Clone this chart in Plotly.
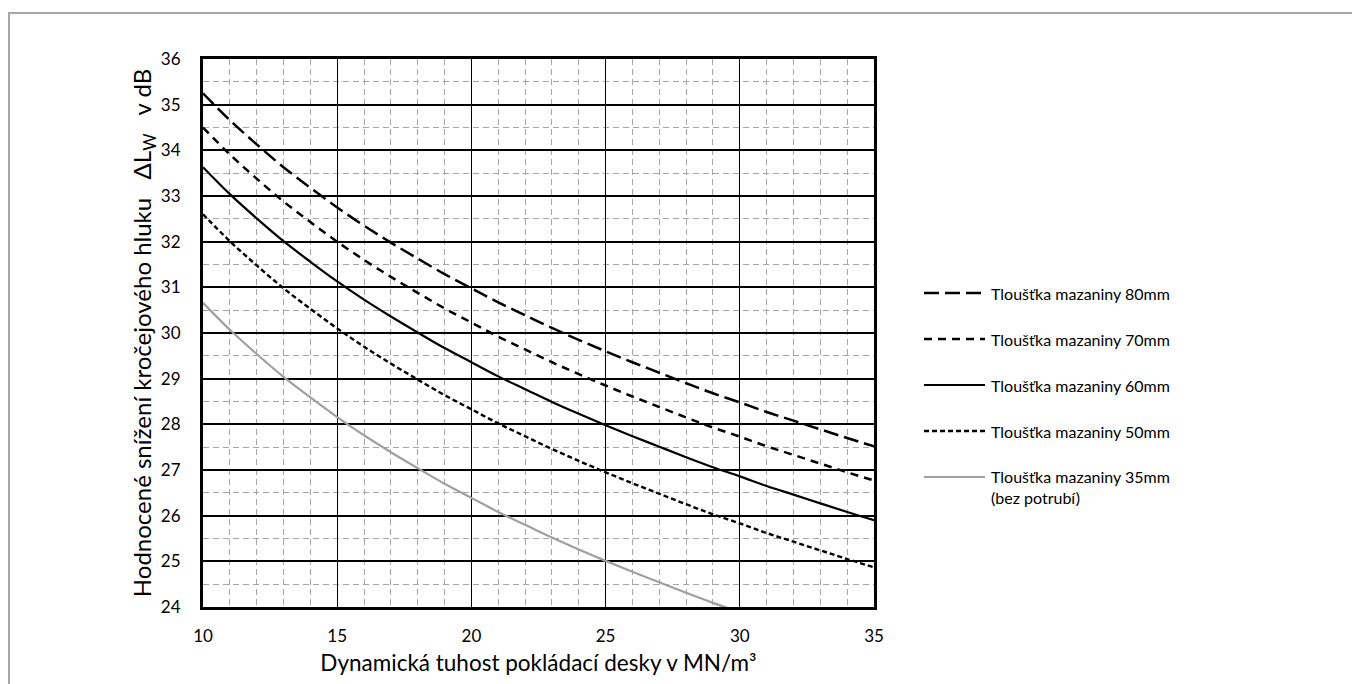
import plotly.graph_objects as go

# Dynamic stiffness s' (MN/m3)
stiffness = list(range(10, 36))
stiffness_35 = list(range(10, 31))

# Weighted impact sound reduction (dB)
screed_80mm = [35.25, 34.66, 34.13, 33.63, 33.18, 32.75, 32.35, 31.98, 31.63, 31.29, 30.98, 30.67, 30.39,
               30.11, 29.85, 29.60, 29.36, 29.13, 28.90, 28.68, 28.48, 28.27, 28.08, 27.89, 27.70, 27.52]
screed_70mm = [34.50, 33.91, 33.38, 32.88, 32.43, 32.00, 31.60, 31.23, 30.88, 30.54, 30.23, 29.92, 29.64,
               29.36, 29.10, 28.85, 28.61, 28.38, 28.15, 27.93, 27.73, 27.52, 27.33, 27.14, 26.95, 26.77]
screed_60mm = [33.63, 33.04, 32.51, 32.01, 31.56, 31.13, 30.73, 30.36, 30.01, 29.67, 29.36, 29.05, 28.77,
               28.49, 28.23, 27.98, 27.74, 27.51, 27.28, 27.06, 26.86, 26.65, 26.46, 26.27, 26.08, 25.90]
screed_50mm = [32.60, 32.01, 31.48, 30.98, 30.53, 30.10, 29.70, 29.33, 28.98, 28.64, 28.33, 28.02, 27.74,
               27.46, 27.20, 26.95, 26.71, 26.48, 26.25, 26.03, 25.83, 25.62, 25.43, 25.24, 25.05, 24.87]
screed_35mm = [30.66, 30.07, 29.54, 29.04, 28.59, 28.16, 27.76, 27.39, 27.04, 26.70, 26.39, 26.08, 25.80,
               25.52, 25.26, 25.01, 24.77, 24.54, 24.31, 24.09, 23.89]

labels = ["Tloušťka mazaniny 80mm", "Tloušťka mazaniny 70mm", "Tloušťka mazaniny 60mm",
          "Tloušťka mazaniny 50mm", "Tloušťka mazaniny 35mm<br>(bez potrubí)"]

x_ticks = [10, 15, 20, 25, 30, 35]
y_ticks = list(range(24, 37))

FONT = "Lato"
OFF = 8  # page body margin
W, H = 1360, 684
L, R, T, B = 203 - OFF, 874 - OFF, 59 - OFF, 607 - OFF

styles = [
    dict(color="black", width=2.5, dash="15px,6px"),
    dict(color="black", width=2.5, dash="8px,6px"),
    dict(color="black", width=2.2, dash="solid"),
    dict(color="black", width=2.4, dash="5px,3px"),
    dict(color="#a0a0a0", width=2.2, dash="solid"),
]
series = [(stiffness, screed_80mm), (stiffness, screed_70mm), (stiffness, screed_60mm),
          (stiffness, screed_50mm), (stiffness_35, screed_35mm)]

fig = go.Figure()
for (xs, ys), st, lab in zip(series, styles, labels):
    fig.add_trace(go.Scatter(x=xs, y=ys, mode="lines", name=lab, line=dict(shape="spline", **st),
                             showlegend=False))


def px(xp):
    return (xp - OFF - L) / (R - L)


def py(yp):
    return (B - (yp - OFF)) / (B - T)


shapes = []
annotations = []
rows = [293, 339, 385, 431, 477]
for st, lab, yr in zip(styles, labels, rows):
    shapes.append(dict(type="line", xref="paper", yref="paper", x0=px(924), x1=px(985),
                       y0=py(yr), y1=py(yr), line=st))
    two = "<br>" in lab
    annotations.append(dict(xref="paper", yref="paper", x=px(989), y=py(yr), text=lab,
                            showarrow=False, xanchor="left",
                            yanchor="top" if two else "middle",
                            yshift=12 if two else 0,
                            align="left", font=dict(family=FONT, size=16, color="black")))

# outer frame
shapes.append(dict(type="rect", xref="paper", yref="paper", x0=px(9), x1=px(1400), y0=py(13), y1=py(720),
                   line=dict(color="#a6a6a6", width=2), layer="below"))

fig.update_layout(
    width=W, height=H,
    margin=dict(l=L, r=W - R, t=T, b=H - B),
    paper_bgcolor="white", plot_bgcolor="white",
    font=dict(family=FONT, size=17, color="black"),
    shapes=shapes, annotations=annotations,
    showlegend=False,
)
fig.update_xaxes(
    range=[10, 35], tickvals=x_ticks, ticktext=[str(v) for v in x_ticks],
    showline=True, linecolor="black", linewidth=3, mirror=True,
    showgrid=True, gridcolor="black", gridwidth=1.3,
    minor=dict(dtick=1, showgrid=True, gridcolor="#a6a6a6", griddash="6px,4px", gridwidth=1),
    ticks="", ticklen=0, tickfont=dict(size=17), zeroline=False, ticklabelstandoff=12,
    title=dict(text="Dynamická tuhost pokládací desky v MN/m³", font=dict(size=22.5), standoff=10),
)
fig.update_yaxes(
    range=[24, 36], tickvals=y_ticks, ticktext=[str(v) for v in y_ticks],
    showline=True, linecolor="black", linewidth=3, mirror=True,
    showgrid=True, gridcolor="black", gridwidth=1.8,
    minor=dict(dtick=0.5, showgrid=True, gridcolor="#a6a6a6", griddash="6px,4px", gridwidth=1),
    ticks="", ticklen=0, tickfont=dict(size=17), zeroline=False, ticklabelstandoff=16,
    title=dict(text="Hodnocené snížení kročejového hluku&#160;&#160;&#160;ΔL<sub>W</sub>&#160;&#160;&#160;v dB",
               font=dict(size=24), standoff=3),
)

fig.write_html("out.html")
